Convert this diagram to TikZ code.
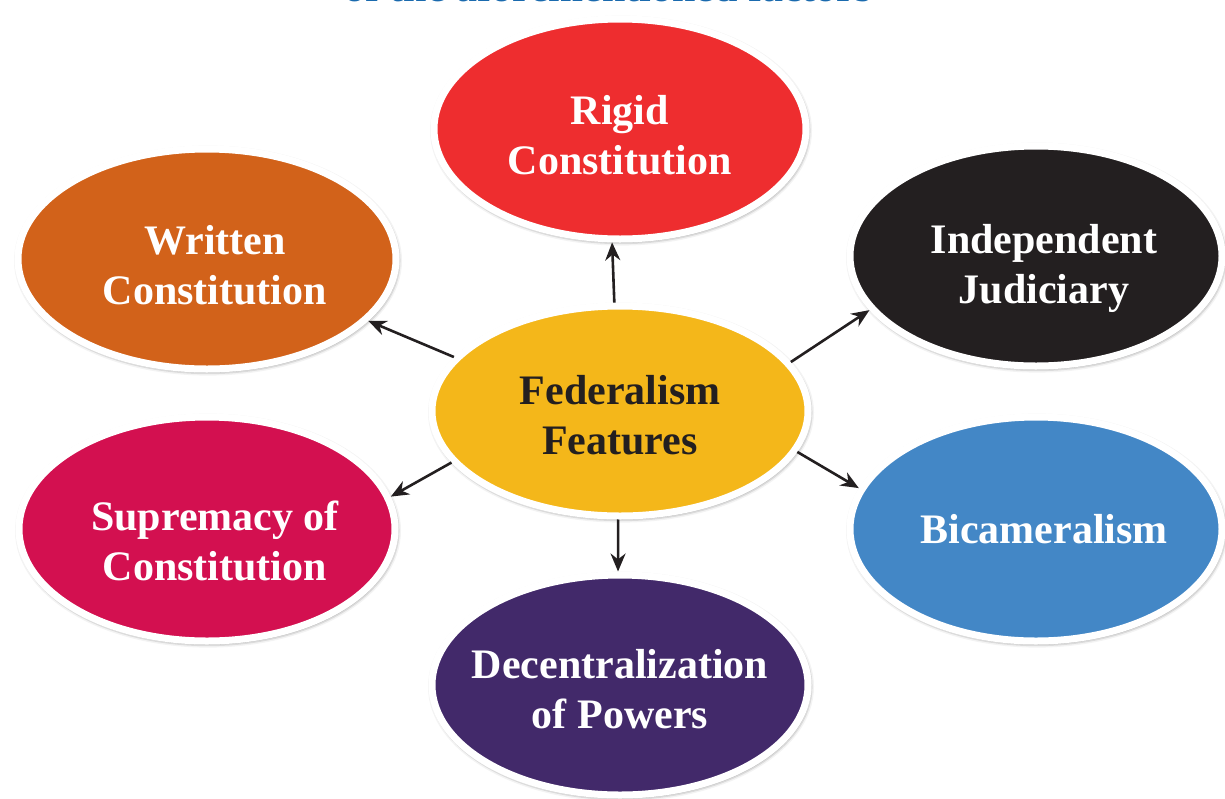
\documentclass[tikz,border=0pt]{standalone}
\usepackage{fontspec}
\setmainfont{Liberation Serif}
\usepackage{tikz}
\usetikzlibrary{arrows.meta, shapes.geometric, shadows.blur}
\definecolor{rigidred}{HTML}{EE2D2F}
\definecolor{writtenorange}{HTML}{D2621A}
\definecolor{judgeblack}{HTML}{231F20}
\definecolor{fedyellow}{HTML}{F4B71A}
\definecolor{supremered}{HTML}{D31050}
\definecolor{bicamblue}{HTML}{4387C6}
\definecolor{powerpurple}{HTML}{42296A}
\definecolor{headblue}{HTML}{1A6AAE}
\tikzset{
       arr/.style = {-{Stealth[length=9pt, width=7.5pt]}, line width=1.3pt,
                     draw=judgeblack},            % <--- arrows
      oval/.style = {ellipse, draw=white, line width=3.5pt,
                     minimum width=186pt, minimum height=110pt,
                     inner sep=0pt,
                     blur shadow={shadow xshift=0.5pt, shadow yshift=-0.8pt,
                                  shadow blur radius=2.5pt, shadow opacity=75}},
   ovaltxt/.style = {align=center, text=white, inner sep=0pt,
                     font=\fontsize{21}{25}\selectfont\bfseries},
        }

\begin{document}
\begin{tikzpicture}[x=0.5pt, y=-0.5pt]
  \useasboundingbox (0,0) rectangle (1225,798);

  % heading, cut by the page edge
  \node[anchor=base, text=headblue, font=\fontsize{21}{25}\selectfont\bfseries]
       (head) at (608,1) {of the aforementioned factors};

  \node[oval, fill=rigidred,
        label={[ovaltxt, yshift=-3pt]center:{Rigid\\Constitution}}] (rigid) at (620,129) {};
  \node[oval, fill=writtenorange, minimum width=189pt,
        label={[ovaltxt, xshift=4pt, yshift=-3pt]center:{Written\\Constitution}}] (written) at (207,259) {};
  \node[oval, fill=judgeblack,
        label={[ovaltxt, xshift=4pt, yshift=-6pt]center:{Independent\\Judiciary}}] (judge) at (1036,256) {};
  \node[oval, fill=fedyellow, minimum width=188pt, minimum height=105pt,
        label={[ovaltxt, text=judgeblack, yshift=-2pt]center:{Federalism\\Features}}] (fed) at (620,411) {};
  \node[oval, fill=supremered, minimum width=188pt, minimum height=112pt,
        label={[ovaltxt, xshift=4pt, yshift=-6pt]center:{Supremacy of\\Constitution}}] (supreme) at (207,529) {};
  \node[oval, fill=bicamblue, minimum height=112pt,
        label={[ovaltxt, xshift=4pt]center:Bicameralism}] (bicam) at (1036,529) {};
  \node[oval, fill=powerpurple, minimum width=188pt,
        label={[ovaltxt, yshift=-2pt]center:{Decentralization\\of Powers}}] (powers) at (620,685) {};

  \draw[arr] (fed.93.5) -- (rigid.266.6);
  \draw[arr] (fed.-91.5) -- (powers.91.5);
  \draw[arr] (fed.162.7) -- (written.-21.6);
  \draw[arr] (fed.197.5) -- (supreme.10.8);
  \draw[arr] (fed.16.8) -- (judge.198.7);
  \draw[arr] (fed.-13.5) -- (bicam.167.4);
\end{tikzpicture}
\end{document}
